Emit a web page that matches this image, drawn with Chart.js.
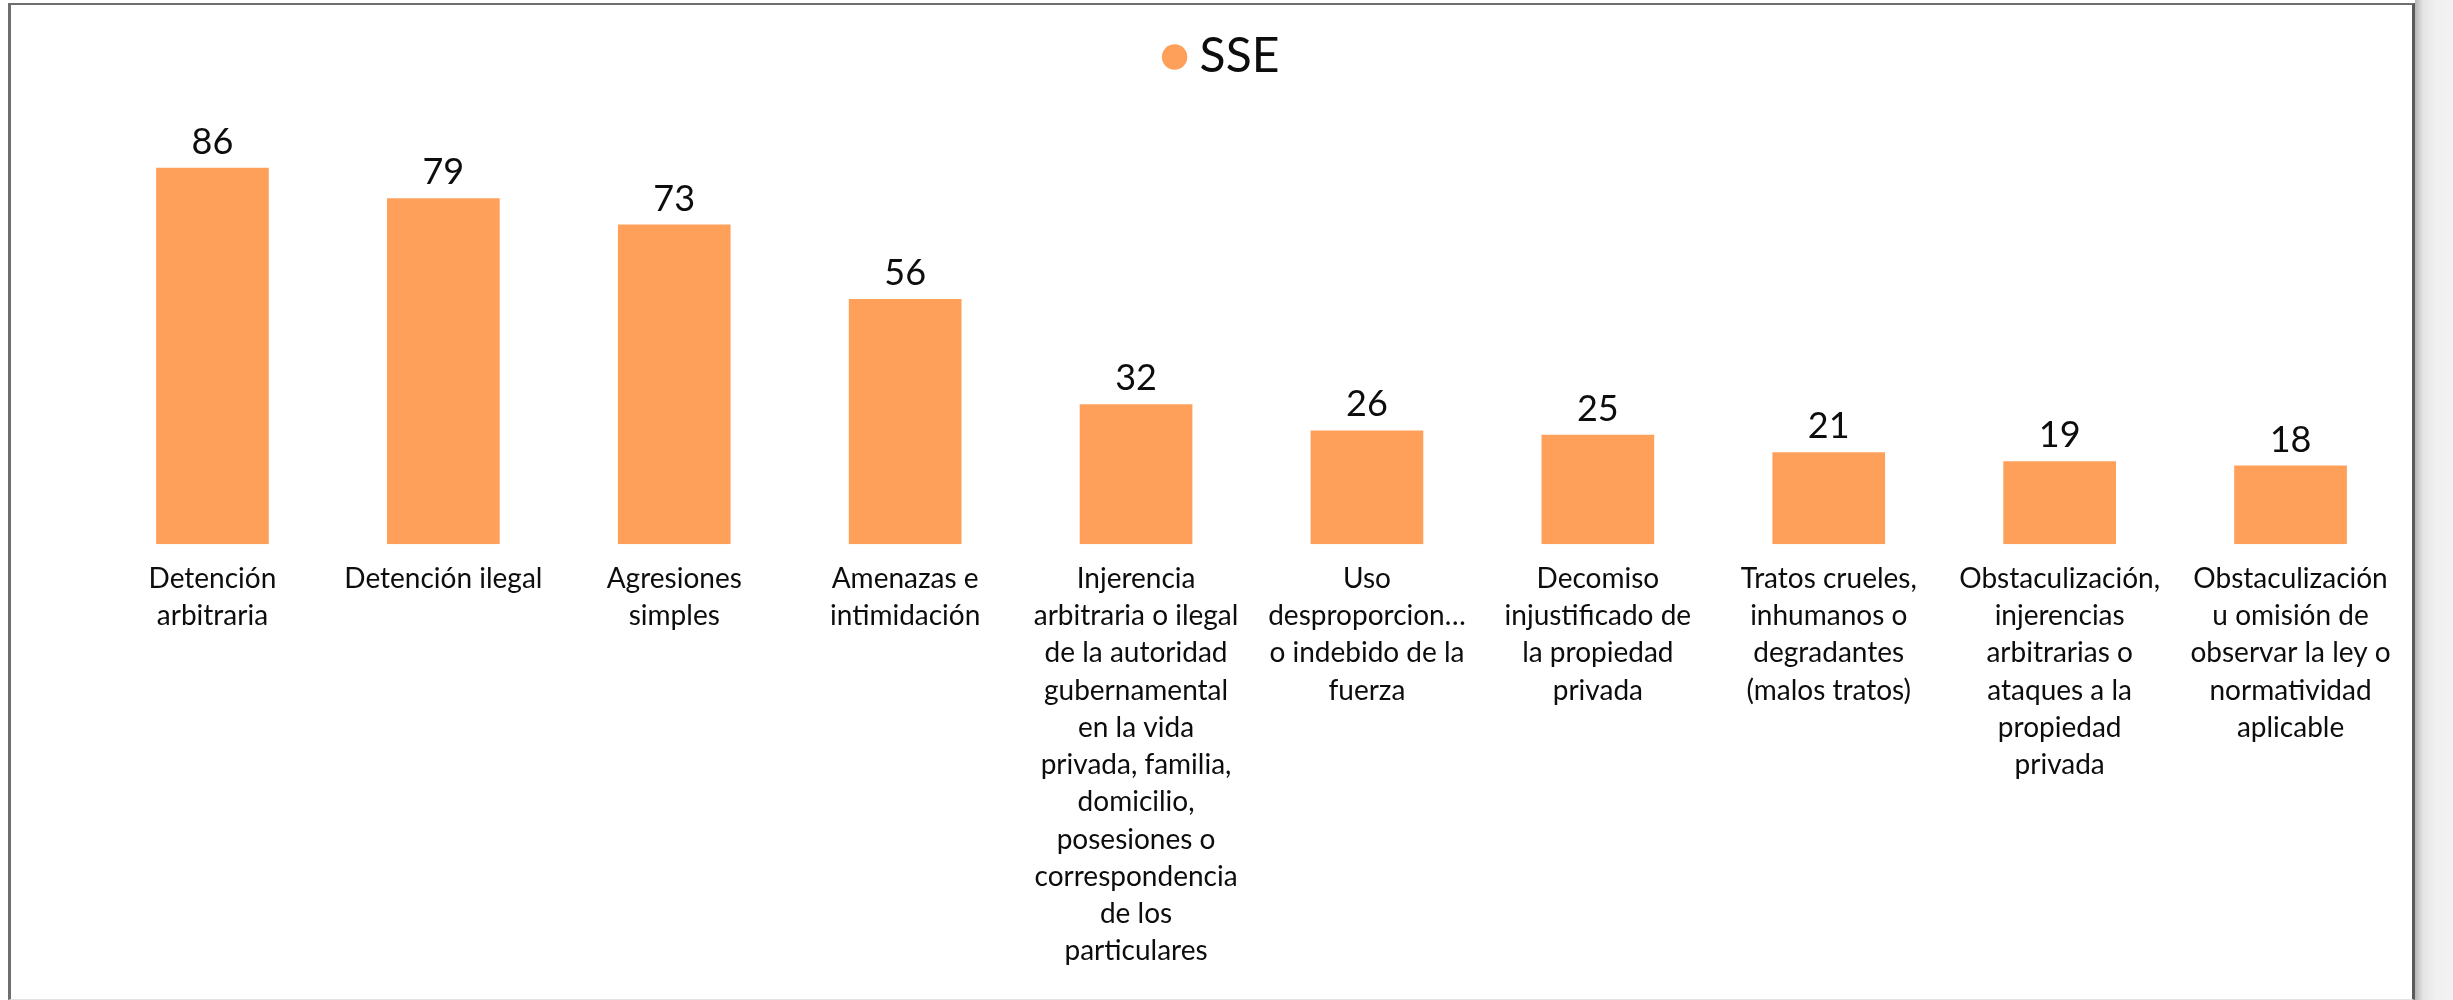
<!DOCTYPE html>
<html>
<head>
<meta charset="utf-8">
<script src="https://cdn.jsdelivr.net/npm/chart.js@4/dist/chart.umd.min.js"></script>
<style>
  html, body { margin: 0; padding: 0; background: #ffffff; }
  #wrap { position: relative; width: 2453px; height: 1000px; overflow: hidden; }
  #c { position: absolute; left: 0; top: 0; }
  #frame {
    position: absolute; left: 8px; top: 3px; width: 2401px; height: 994px;
    border-left: 3px solid #6e6e6e; border-top: 2px solid #6e6e6e;
    border-right: 3px solid #5a5a5a; border-bottom: 1px solid #e2e2e2;
    pointer-events: none;
  }
  #shade {
    position: absolute; left: 2415px; top: 0; width: 38px; height: 1000px;
    background: linear-gradient(to right, #b5b5b5, #e4e4e4 8px, #f0f0f0 20px, #f3f3f3);
    pointer-events: none;
  }
</style>
</head>
<body>
<div id="wrap">
  <canvas id="c" width="2453" height="1000"></canvas>
  <div id="frame"></div>
  <div id="shade"></div>
</div>
<script>
const seriesName = "SSE";
const categories = [
  ["Detención", "arbitraria"],
  ["Detención ilegal"],
  ["Agresiones", "simples"],
  ["Amenazas e", "intimidación"],
  ["Injerencia", "arbitraria o ilegal", "de la autoridad", "gubernamental", "en la vida", "privada, familia,", "domicilio,", "posesiones o", "correspondencia", "de los", "particulares"],
  ["Uso", "desproporcion…", "o indebido de la", "fuerza"],
  ["Decomiso", "injustificado de", "la propiedad", "privada"],
  ["Tratos crueles,", "inhumanos o", "degradantes", "(malos tratos)"],
  ["Obstaculización,", "injerencias", "arbitrarias o", "ataques a la", "propiedad", "privada"],
  ["Obstaculización", "u omisión de", "observar la ley o", "normatividad", "aplicable"]
];
const values = [86, 79, 73, 56, 32, 26, 25, 21, 19, 18];

const FONT = "Lato, 'Open Sans', 'Noto Sans', sans-serif";
const BAR_COLOR = "#FFA05A";
const TEXT_COLOR = "#0d0d0d";

const valueLabels = {
  id: "valueLabels",
  afterDatasetsDraw(chart) {
    const ctx = chart.ctx;
    const meta = chart.getDatasetMeta(0);
    ctx.save();
    ctx.font = "36px " + FONT;
    ctx.fillStyle = TEXT_COLOR;
    ctx.textAlign = "center";
    ctx.textBaseline = "alphabetic";
    meta.data.forEach((bar, i) => {
      ctx.fillText(String(values[i]), bar.x, bar.y - 14);
    });
    ctx.restore();
  }
};

function draw() {
  new Chart(document.getElementById("c"), {
    type: "bar",
    data: {
      labels: categories,
      datasets: [{
        label: seriesName,
        data: values,
        backgroundColor: BAR_COLOR,
        borderWidth: 0,
        categoryPercentage: 1.0,
        barPercentage: 0.488
      }]
    },
    options: {
      responsive: false,
      devicePixelRatio: 1,
      animation: false,
      layout: { padding: { left: 47, right: 47, top: 23, bottom: 14 } },
      plugins: {
        legend: {
          display: true,
          position: "top",
          labels: {
            usePointStyle: true,
            pointStyle: "circle",
            boxWidth: 2,
            boxHeight: 18,
            padding: 10,
            color: TEXT_COLOR,
            font: { family: FONT, size: 48 }
          }
        },
        tooltip: { enabled: false }
      },
      scales: {
        x: {
          grid: { display: false, drawTicks: false },
          border: { display: false },
          ticks: {
            color: TEXT_COLOR,
            font: { family: FONT, size: 28, lineHeight: 1.33 },
            padding: 16,
            maxRotation: 0,
            minRotation: 0,
            autoSkip: false
          }
        },
        y: {
          display: true,
          min: 0,
          max: 103.5,
          grid: { display: false, drawTicks: false },
          border: { display: false },
          ticks: { display: false },
          afterFit(scale) { scale.width = 50; }
        }
      }
    },
    plugins: [valueLabels]
  });
}

if (document.fonts && document.fonts.load) {
  Promise.all([
    document.fonts.load("28px Lato"),
    document.fonts.load("48px Lato")
  ]).then(draw, draw);
} else {
  draw();
}
</script>
</body>
</html>
